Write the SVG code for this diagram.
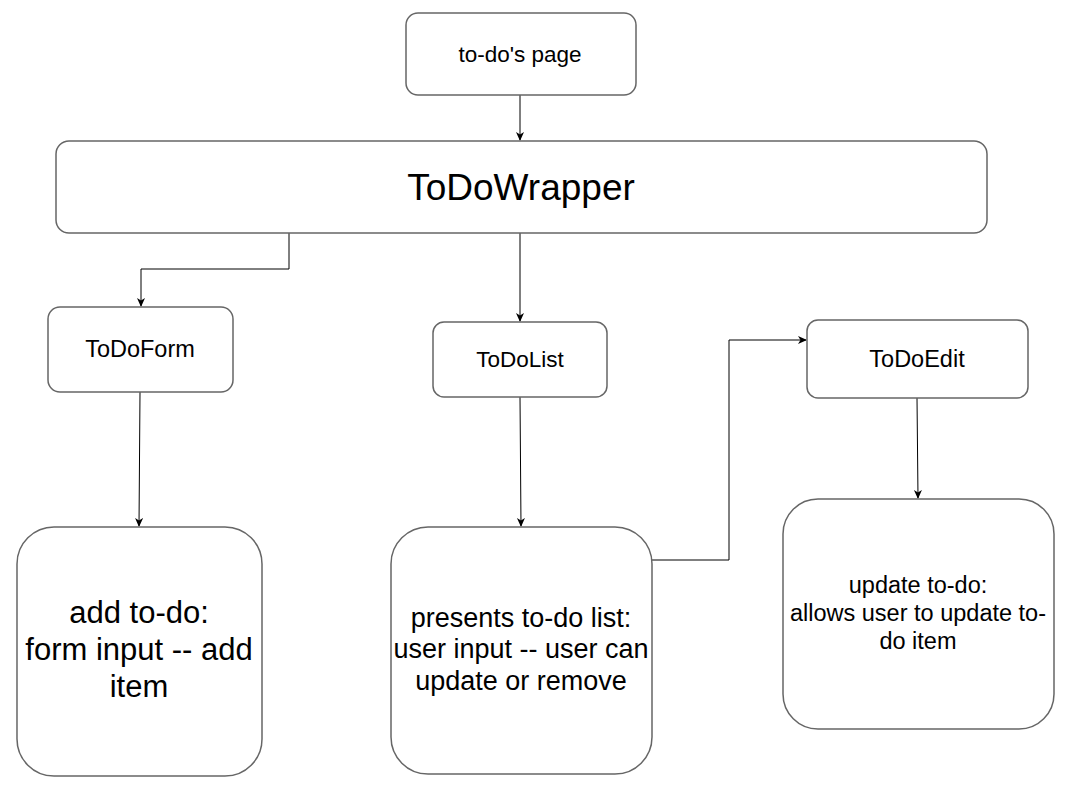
<svg xmlns="http://www.w3.org/2000/svg" width="1072" height="810" viewBox="0 0 1072 810">
<style>
.box{fill:#ffffff;stroke:#666666;stroke-width:1.5}
.t{font-family:"Liberation Sans",Arial,sans-serif;fill:#000000;text-anchor:middle}
.edge{fill:none;stroke:#000000;stroke-width:1}
</style>
<defs>
<marker id="arr" markerWidth="10" markerHeight="10" refX="8" refY="4" orient="auto" markerUnits="userSpaceOnUse">
<path d="M0,0 L9,4 L0,8 L2.5,4 Z" fill="#000000"/>
</marker>
</defs>
<rect x="0" y="0" width="1072" height="810" fill="#ffffff"/>
<g id="connectors">
<path class="edge" d="M520,95 L520,140" marker-end="url(#arr)"/>
<path class="edge" d="M289,233 L289,269 L141,269 L141,306" marker-end="url(#arr)"/>
<path class="edge" d="M520,233 L520,321" marker-end="url(#arr)"/>
<path class="edge" d="M140,392 L139,526" marker-end="url(#arr)"/>
<path class="edge" d="M520,397 L521,526" marker-end="url(#arr)"/>
<path class="edge" d="M917,398 L918,498" marker-end="url(#arr)"/>
<path class="edge" d="M652,560 L729,560 L729,340 L806,340" marker-end="url(#arr)"/>
</g>
<g id="page">
<rect class="box" x="406" y="13" width="230" height="82" rx="12"/>
<text class="t" x="520" y="62" font-size="22.5">to-do's page</text>
</g>
<g id="wrapper">
<rect class="box" x="56" y="141" width="931" height="92" rx="13"/>
<text class="t" x="521" y="200" font-size="37">ToDoWrapper</text>
</g>
<g id="form">
<rect class="box" x="48" y="307" width="185" height="85" rx="12"/>
<text class="t" x="140" y="357" font-size="23.5">ToDoForm</text>
</g>
<g id="list">
<rect class="box" x="433" y="322" width="174" height="75" rx="11"/>
<text class="t" x="520" y="367" font-size="22.5">ToDoList</text>
</g>
<g id="edit">
<rect class="box" x="807" y="320" width="221" height="78" rx="11"/>
<text class="t" x="917" y="367" font-size="23.5">ToDoEdit</text>
</g>
<g id="add">
<rect class="box" x="17" y="527" width="245" height="249" rx="37"/>
<text class="t" font-size="31"><tspan x="139" y="623">add to-do:</tspan><tspan x="139" y="660">form input -- add</tspan><tspan x="139" y="697">item</tspan></text>
</g>
<g id="presents">
<rect class="box" x="391" y="527" width="261" height="247" rx="37"/>
<text class="t" font-size="27"><tspan x="521" y="627">presents to-do list:</tspan><tspan x="521" y="658">user input -- user can</tspan><tspan x="521" y="690">update or remove</tspan></text>
</g>
<g id="update">
<rect class="box" x="783" y="499" width="271" height="230" rx="35"/>
<text class="t" font-size="23.5"><tspan x="918" y="593">update to-do:</tspan><tspan x="918" y="621">allows user to update to-</tspan><tspan x="918" y="649">do item</tspan></text>
</g>
</svg>
